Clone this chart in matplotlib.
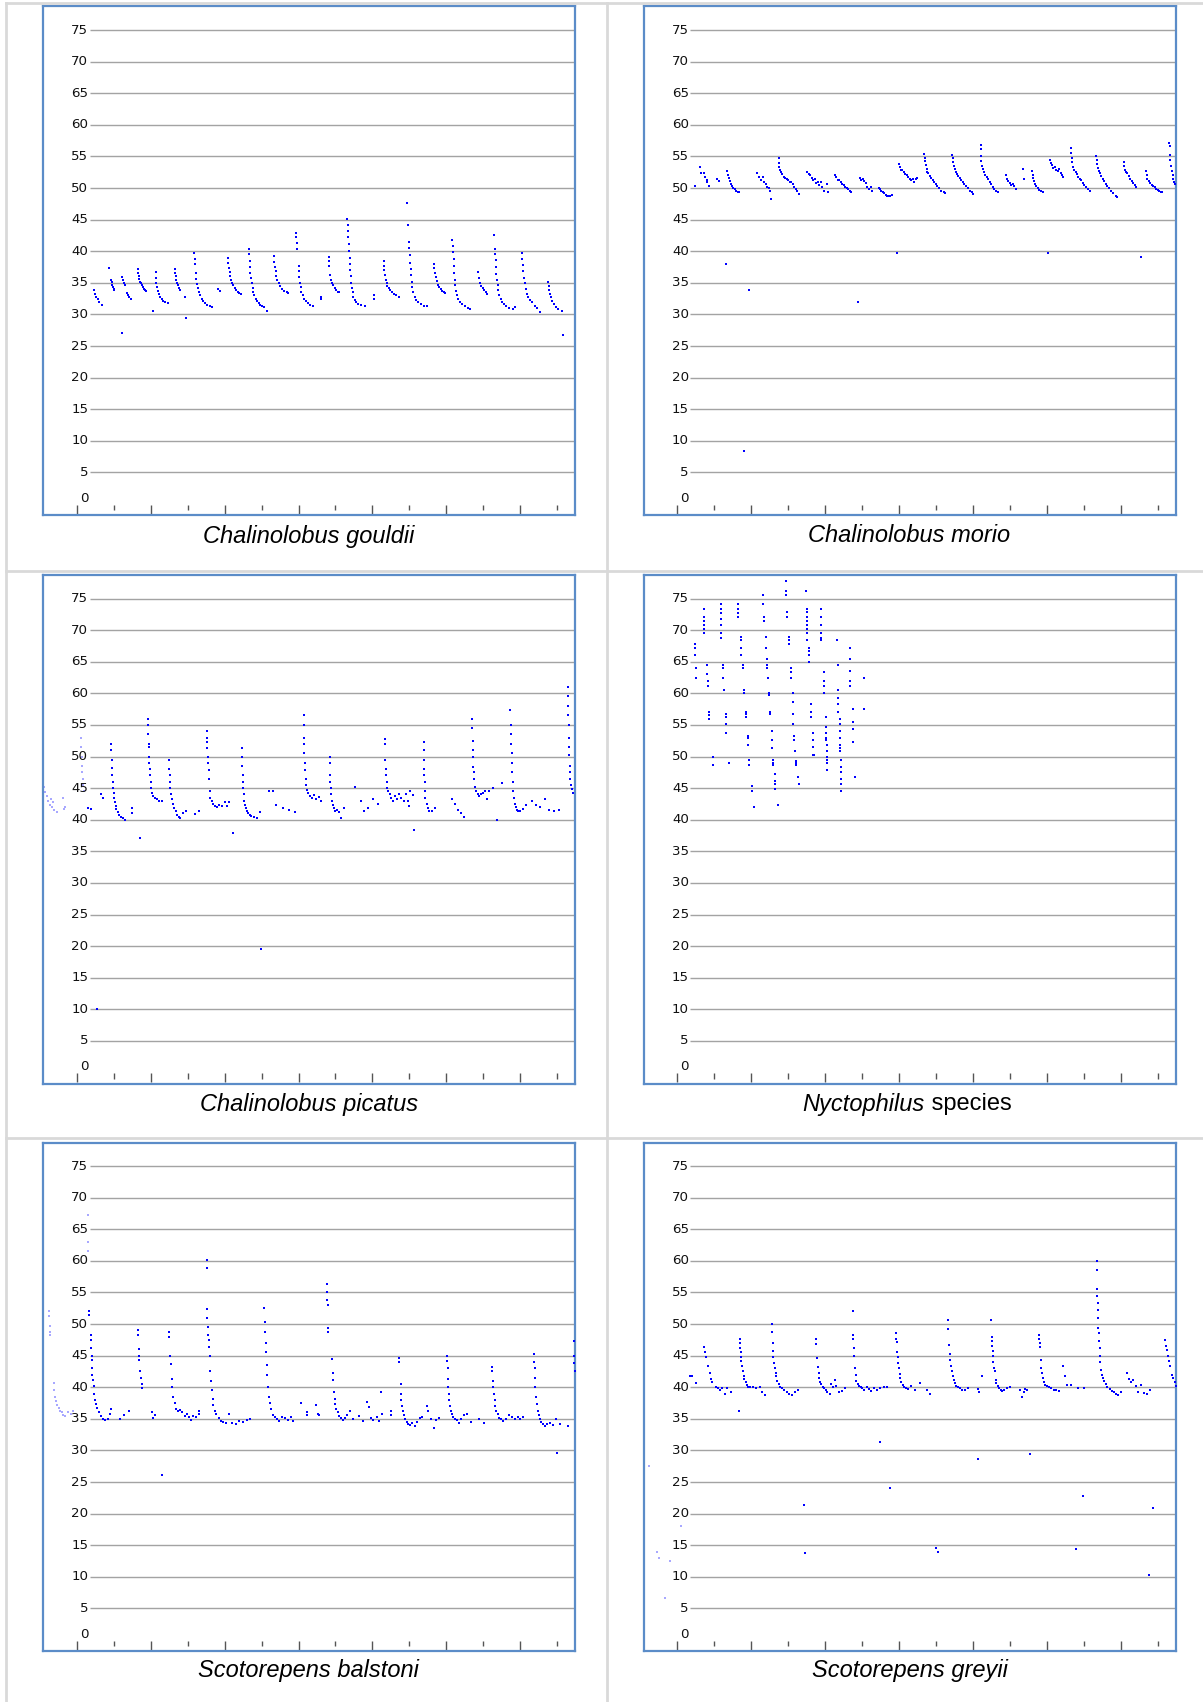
import matplotlib
matplotlib.use("Agg")
import matplotlib.pyplot as plt
from matplotlib.lines import Line2D

OUT_PNG = "out.png"
W, H = 1203, 1702

# frequency (kHz) labels and grid, time ticks
FREQ_LABELS = [0, 5, 10, 15, 20, 25, 30, 35, 40, 45, 50, 55, 60, 65, 70, 75]
FREQ_GRID = FREQ_LABELS[1:]
MAJOR_T = [0, 10, 20, 30, 40, 50, 60]
MINOR_T = [5, 15, 25, 35, 45, 55, 65]

CAPTIONS = ["Chalinolobus gouldii", "Chalinolobus morio", "Chalinolobus picatus",
            "Nyctophilus species", "Scotorepens balstoni", "Scotorepens greyii"]

# (time, kHz) dots
GOULDII = [
    (2.4, 33.9), (2.5, 33.3), (2.7, 32.8), (2.9, 32.5), (3.1, 32.0), (3.4, 31.5),
    (4.45, 37.4), (4.7, 35.5), (4.75, 35.1), (4.8, 34.7), (4.9, 34.3), (5.0, 34.0), (5.1, 33.9),
    (6.1, 27.0),
    (6.2, 35.9), (6.3, 35.5), (6.4, 35.0), (6.6, 34.6), (6.8, 33.4), (7.0, 33.0), (7.1, 32.7), (7.3, 32.4),
    (8.3, 37.2), (8.35, 36.6), (8.4, 36.0), (8.5, 35.6), (8.6, 35.2), (8.7, 34.9), (8.8, 34.6),
    (8.95, 34.3), (9.1, 34.0), (9.3, 33.8), (9.45, 33.7),
    (10.35, 30.5),
    (10.7, 36.7), (10.75, 35.8), (10.8, 35.0), (10.9, 34.3), (11.0, 33.7), (11.1, 33.2), (11.3, 32.8),
    (11.5, 32.4), (11.7, 32.1), (12.0, 31.9), (12.3, 31.8),
    (13.3, 37.2), (13.35, 36.6), (13.4, 36.0), (13.5, 35.5), (13.6, 35.0), (13.7, 34.6), (13.85, 34.2),
    (14.0, 33.9), (14.7, 32.8), (14.8, 29.4),
    (15.9, 39.7), (15.95, 38.8), (16.0, 38.0), (16.1, 36.6), (16.2, 35.6), (16.3, 34.8), (16.4, 34.1),
    (16.5, 33.5), (16.7, 33.0), (16.9, 32.5), (17.1, 32.1), (17.4, 31.8), (17.7, 31.5), (18.0, 31.3), (18.3, 31.1),
    (19.1, 34.0), (19.45, 33.7),
    (20.45, 38.9), (20.5, 38.2), (20.6, 37.4), (20.7, 36.7), (20.8, 36.0), (20.9, 35.5), (21.0, 35.0),
    (21.2, 34.6), (21.4, 34.2), (21.6, 33.9), (21.8, 33.6), (22.0, 33.4), (22.2, 33.3),
    (23.3, 40.4), (23.35, 39.5), (23.4, 38.5), (23.45, 37.5), (23.5, 36.6), (23.6, 35.8), (23.7, 35.0),
    (23.8, 34.2), (23.9, 33.5), (24.0, 33.0), (24.2, 32.5), (24.4, 32.1), (24.6, 31.8), (24.8, 31.5),
    (25.0, 31.3), (25.3, 31.1), (25.7, 30.6),
    (26.7, 39.2), (26.75, 38.3), (26.8, 37.5), (26.9, 36.8), (27.0, 36.1), (27.1, 35.5), (27.3, 35.0),
    (27.5, 34.5), (27.8, 34.0), (28.1, 33.7), (28.4, 33.5), (28.6, 33.4),
    (29.7, 42.9), (29.7, 42.2), (29.75, 41.3), (29.75, 40.4), (30.0, 37.7), (30.05, 36.9), (30.1, 35.9),
    (30.2, 35.0), (30.3, 34.3), (30.4, 33.6), (30.6, 33.0), (30.8, 32.5), (31.0, 32.1), (31.3, 31.8),
    (31.6, 31.5), (32.0, 31.3),
    (33.0, 32.8), (33.0, 32.4),
    (34.1, 39.1), (34.1, 38.5), (34.15, 37.6), (34.25, 36.3), (34.4, 35.5), (34.55, 35.0), (34.7, 34.6),
    (34.9, 34.2), (35.1, 33.9), (35.3, 33.6), (35.45, 33.5),
    (36.6, 45.1), (36.65, 44.2), (36.7, 43.2), (36.75, 42.2), (36.8, 41.1), (36.85, 40.0), (36.9, 39.0),
    (36.95, 38.0), (37.0, 37.0), (37.05, 36.0), (37.1, 35.0), (37.2, 34.2), (37.3, 33.5), (37.4, 32.8),
    (37.6, 32.3), (37.8, 31.9), (38.1, 31.6), (38.5, 31.5), (39.0, 31.4),
    (40.2, 33.0), (40.2, 32.4),
    (41.5, 38.4), (41.55, 37.7), (41.6, 37.0), (41.7, 36.2), (41.8, 35.5), (41.9, 35.0), (42.0, 34.5),
    (42.2, 34.1), (42.4, 33.8), (42.6, 33.5), (42.9, 33.3), (43.2, 33.0), (43.6, 32.7),
    (44.7, 47.6), (44.8, 44.2), (45.0, 41.5), (45.0, 40.5), (45.05, 39.4), (45.1, 38.2), (45.15, 37.2),
    (45.2, 36.2), (45.3, 35.2), (45.4, 34.3), (45.5, 33.5), (45.7, 32.8), (45.9, 32.3), (46.2, 31.9),
    (46.5, 31.6), (46.9, 31.4), (47.3, 31.3),
    (48.3, 38.0), (48.35, 37.3), (48.45, 36.6), (48.55, 35.9), (48.65, 35.3), (48.8, 34.7), (49.0, 34.3),
    (49.2, 34.0), (49.4, 33.7), (49.6, 33.5), (49.8, 33.4),
    (50.8, 41.8), (50.85, 40.8), (50.9, 39.8), (50.95, 38.7), (51.0, 37.6), (51.05, 36.5), (51.1, 35.5),
    (51.2, 34.6), (51.3, 33.7), (51.4, 33.0), (51.6, 32.4), (51.8, 32.0), (52.1, 31.6), (52.5, 31.3),
    (52.9, 31.0), (53.2, 30.9),
    (54.3, 36.7), (54.4, 35.7), (54.5, 35.0), (54.7, 34.5), (54.9, 34.1), (55.1, 33.8), (55.3, 33.5), (55.45, 33.3),
    (56.45, 42.6), (56.55, 40.4), (56.6, 39.6), (56.65, 38.6), (56.7, 37.5), (56.75, 36.4), (56.8, 35.5),
    (56.9, 34.6), (57.0, 33.8), (57.1, 33.1), (57.3, 32.5), (57.5, 32.0), (57.8, 31.6), (58.1, 31.3),
    (58.5, 31.0), (59.0, 30.9), (59.2, 31.1),
    (60.2, 39.7), (60.25, 38.8), (60.3, 37.8), (60.35, 36.8), (60.45, 35.8), (60.55, 34.9), (60.7, 34.0),
    (60.85, 33.3), (61.0, 32.8), (61.3, 32.3), (61.6, 31.9), (61.9, 31.4), (62.2, 31.0), (62.6, 30.4),
    (63.75, 35.2), (63.8, 34.5), (63.9, 33.8), (64.0, 33.2), (64.1, 32.7), (64.3, 32.2), (64.5, 31.7),
    (64.8, 31.2), (65.1, 30.8), (65.6, 30.5),
    (65.7, 26.7),
]

MORIO = [
    (2.45, 50.3),
    (3.1, 53.4), (3.27, 52.3), (3.6, 52.3), (3.8, 51.7), (4.0, 51.3), (4.1, 50.9), (4.35, 50.3),
    (5.4, 51.4), (5.6, 51.1),
    (6.6, 38.0),
    (6.7, 52.7), (6.85, 52.1), (7.0, 51.6), (7.15, 51.1), (7.3, 50.6), (7.45, 50.3), (7.6, 50.0),
    (7.8, 49.8), (8.0, 49.6), (8.2, 49.4), (8.35, 49.3),
    (9.1, 8.4), (9.7, 33.9),
    (10.85, 52.3), (11.05, 51.7), (11.3, 51.3), (11.65, 51.7), (11.75, 50.9), (11.95, 50.6),
    (12.2, 50.1), (12.4, 50.0), (12.55, 49.6), (12.65, 48.2),
    (13.7, 54.8), (13.75, 54.0), (13.8, 53.4), (13.9, 52.9), (14.0, 52.5), (14.2, 52.2), (14.4, 51.8),
    (14.6, 51.6), (14.8, 51.5), (15.0, 51.2), (15.2, 50.9), (15.4, 51.0), (15.6, 50.6), (15.8, 50.2),
    (16.0, 49.8), (16.2, 49.5), (16.5, 49.0),
    (17.6, 52.6), (17.8, 52.2), (18.0, 52.0), (18.2, 51.6), (18.4, 51.3), (18.6, 51.4), (18.8, 50.8),
    (19.0, 51.0), (19.2, 50.5), (19.4, 50.9), (19.6, 50.2), (19.9, 49.6), (20.2, 50.6), (20.35, 49.3),
    (21.3, 52.1), (21.5, 51.7), (21.7, 51.3), (21.9, 51.3), (22.1, 50.9), (22.3, 50.6), (22.5, 50.5),
    (22.7, 50.2), (22.9, 50.0), (23.1, 49.8), (23.3, 49.6), (23.5, 49.3),
    (24.4, 32.0),
    (24.7, 51.6), (24.9, 51.2), (25.1, 51.4), (25.3, 51.1), (25.5, 50.8), (25.7, 50.2), (25.9, 49.9),
    (26.2, 50.1), (26.3, 49.6),
    (27.2, 50.0), (27.4, 49.9), (27.6, 49.5), (27.8, 49.4), (28.0, 49.2), (28.2, 48.9), (28.4, 48.8),
    (28.6, 48.8), (28.8, 48.7), (29.0, 48.9),
    (29.7, 39.7),
    (30.0, 53.8), (30.05, 53.4), (30.2, 52.9), (30.4, 52.8), (30.6, 52.5), (30.8, 52.2), (31.0, 52.0),
    (31.2, 51.7), (31.4, 51.4), (31.6, 51.2), (31.8, 51.4), (32.0, 50.9), (32.2, 51.5), (32.4, 51.6),
    (33.4, 55.4), (33.45, 54.8), (33.5, 54.2), (33.6, 53.6), (33.7, 53.0), (33.8, 52.6), (33.95, 52.3),
    (34.1, 51.9), (34.3, 51.6), (34.5, 51.3), (34.7, 51.0), (34.9, 50.6), (35.1, 50.3), (35.4, 50.0),
    (35.7, 49.6), (36.0, 49.3), (36.2, 49.2),
    (37.15, 55.3), (37.2, 54.7), (37.3, 54.1), (37.4, 53.5), (37.5, 53.0), (37.65, 52.6), (37.8, 52.2),
    (38.0, 51.9), (38.2, 51.6), (38.4, 51.3), (38.6, 51.0), (38.8, 50.7), (39.0, 50.3), (39.3, 50.0),
    (39.6, 49.6), (39.85, 49.3), (40.0, 49.0),
    (41.0, 56.8), (41.0, 56.2), (41.05, 55.0), (41.1, 54.3), (41.2, 53.5), (41.3, 53.0), (41.4, 52.5),
    (41.6, 52.1), (41.8, 51.8), (42.0, 51.5), (42.2, 51.0), (42.4, 50.6), (42.6, 50.2), (42.8, 49.9),
    (43.1, 49.6), (43.4, 49.4),
    (44.4, 52.0), (44.5, 51.5), (44.7, 51.1), (44.9, 50.8), (45.1, 50.5), (45.3, 50.6), (45.5, 50.3), (45.7, 49.9),
    (46.7, 53.0), (46.8, 51.4),
    (47.9, 52.7), (48.0, 52.0), (48.1, 51.6), (48.2, 51.1), (48.35, 50.7), (48.5, 50.3), (48.7, 50.0),
    (48.9, 49.7), (49.1, 49.5), (49.35, 49.3),
    (50.1, 39.7),
    (50.4, 54.5), (50.5, 54.0), (50.6, 53.6), (50.8, 53.2), (51.0, 53.4), (51.2, 52.9), (51.4, 52.7),
    (51.6, 53.0), (51.8, 52.4), (52.0, 52.0), (52.1, 51.7),
    (53.2, 56.4), (53.25, 55.6), (53.3, 54.8), (53.35, 54.1), (53.45, 53.4), (53.6, 52.9), (53.8, 52.5),
    (54.0, 52.2), (54.2, 51.8), (54.4, 51.5), (54.6, 51.2), (54.8, 50.8), (55.0, 50.5), (55.2, 50.2),
    (55.5, 49.8), (55.7, 49.5),
    (56.6, 55.0), (56.65, 54.4), (56.75, 53.8), (56.85, 53.2), (57.0, 52.7), (57.15, 52.3), (57.3, 51.9),
    (57.5, 51.5), (57.7, 51.1), (57.9, 50.7), (58.1, 50.3), (58.3, 50.0), (58.6, 49.6), (58.9, 49.2),
    (59.2, 48.8), (59.4, 48.6),
    (60.35, 54.1), (60.4, 53.5), (60.5, 52.9), (60.6, 52.5), (60.8, 52.4), (61.0, 51.9), (61.2, 51.4),
    (61.4, 51.1), (61.6, 50.8), (61.8, 50.4), (62.0, 50.1),
    (62.7, 39.1),
    (63.35, 52.7), (63.4, 52.0), (63.5, 51.5), (63.7, 51.1), (63.9, 50.8), (64.1, 50.5), (64.3, 50.3),
    (64.5, 50.2), (64.7, 49.9), (64.9, 49.7), (65.1, 49.5), (65.3, 49.4), (65.5, 49.4),
    (66.45, 57.2), (66.5, 56.6), (66.55, 55.3), (66.6, 54.5), (66.7, 53.5), (66.8, 52.7), (66.9, 52.0),
    (67.0, 51.5), (67.1, 51.0), (67.2, 50.6),
]

PICATUS = [
    (1.6, 41.9), (2.0, 41.7), (2.8, 10.1), (3.35, 44.0), (3.6, 43.4),
    (4.7, 52.0), (4.7, 51.0), (4.75, 49.5), (4.8, 48.2), (4.85, 47.0), (4.9, 46.0), (4.95, 45.0),
    (5.0, 44.2), (5.1, 43.5), (5.2, 42.8), (5.3, 42.2), (5.4, 41.7), (5.6, 41.2), (5.8, 40.8),
    (6.0, 40.5), (6.3, 40.2), (6.5, 40.0),
    (7.5, 41.8), (7.5, 41.0), (8.6, 37.1),
    (9.7, 56.0), (9.7, 55.0), (9.72, 53.5), (9.75, 52.0), (9.78, 51.5), (9.8, 50.0), (9.85, 49.0),
    (9.9, 48.0), (9.95, 47.0), (10.0, 46.0), (10.1, 45.0), (10.2, 44.2), (10.4, 43.7), (10.6, 43.4),
    (10.9, 43.2), (11.2, 43.0), (11.5, 42.9),
    (12.5, 49.4), (12.55, 48.0), (12.6, 47.0), (12.65, 46.0), (12.7, 45.0), (12.8, 44.0), (12.9, 43.2),
    (13.0, 42.5), (13.2, 41.8), (13.4, 41.3), (13.6, 40.8), (13.8, 40.5), (14.0, 40.2), (14.4, 41.0), (14.8, 41.3),
    (16.0, 40.9), (16.6, 41.3),
    (17.6, 54.1), (17.6, 53.0), (17.65, 52.3), (17.7, 51.3), (17.75, 50.0), (17.8, 49.0), (17.85, 47.8),
    (17.9, 46.5), (18.0, 44.5), (18.1, 43.5), (18.3, 43.0), (18.5, 42.5), (18.7, 42.2), (19.0, 42.0),
    (19.3, 42.4), (19.6, 42.1), (20.0, 42.8), (20.3, 42.2), (20.6, 42.8),
    (21.2, 37.9),
    (22.3, 51.3), (22.35, 50.0), (22.4, 48.5), (22.45, 47.0), (22.5, 46.0), (22.55, 45.0), (22.6, 44.0),
    (22.7, 43.0), (22.8, 42.3), (22.9, 41.8), (23.0, 41.3), (23.2, 41.0), (23.4, 40.8), (23.6, 40.6),
    (24.0, 40.4), (24.4, 40.2), (24.8, 41.2),
    (24.9, 19.5),
    (26.0, 44.6), (26.5, 44.6), (26.9, 42.4), (27.9, 41.9), (28.7, 41.5), (29.5, 41.2),
    (30.7, 56.5), (30.7, 55.0), (30.72, 53.0), (30.75, 52.0), (30.8, 50.5), (30.85, 49.0), (30.9, 47.8),
    (30.95, 46.5), (31.0, 45.5), (31.1, 44.7), (31.3, 44.2), (31.5, 43.8), (31.8, 43.5), (32.1, 43.9),
    (32.4, 43.3), (32.8, 43.6), (33.1, 43.0),
    (34.2, 50.0), (34.2, 49.0), (34.25, 47.0), (34.3, 46.0), (34.35, 45.0), (34.4, 44.0), (34.5, 43.0),
    (34.6, 42.3), (34.8, 41.8), (35.0, 41.3), (35.2, 41.5), (35.5, 41.2), (35.7, 40.3), (36.1, 41.8),
    (37.7, 45.2), (38.5, 43.0), (38.9, 41.3), (39.4, 41.8), (40.1, 43.3), (40.8, 42.5),
    (41.7, 52.8), (41.7, 52.0), (41.75, 49.5), (41.8, 48.0), (41.85, 47.0), (41.9, 46.0), (42.0, 45.0),
    (42.1, 44.5), (42.3, 44.0), (42.5, 43.5), (42.8, 43.0), (43.0, 43.8), (43.3, 43.3), (43.6, 44.0),
    (43.9, 43.5), (44.2, 43.0), (44.5, 44.1), (44.8, 43.0), (45.0, 42.1), (45.1, 44.6), (45.5, 43.9),
    (45.6, 38.3),
    (46.9, 52.3), (46.9, 51.0), (46.95, 49.5), (47.0, 48.0), (47.0, 47.0), (47.05, 46.0), (47.1, 44.5),
    (47.15, 43.5), (47.3, 42.5), (47.5, 41.8), (47.7, 41.3), (48.0, 41.3), (48.4, 41.8),
    (50.7, 43.3), (51.1, 42.5), (51.5, 41.6), (51.9, 41.0), (52.3, 40.5),
    (53.5, 56.0), (53.5, 54.5), (53.55, 52.5), (53.6, 51.0), (53.6, 50.0), (53.65, 48.3), (53.7, 47.5),
    (53.75, 46.5), (53.85, 45.2), (54.0, 44.5), (54.2, 44.0), (54.4, 43.7), (54.6, 44.1), (54.9, 44.3),
    (55.2, 44.6), (55.5, 43.2), (55.8, 44.5),
    (56.3, 45.0), (56.8, 40.0), (57.5, 45.8),
    (58.65, 57.3), (58.7, 55.0), (58.72, 53.5), (58.75, 52.0), (58.8, 50.5), (58.85, 49.0), (58.9, 47.5),
    (58.95, 46.0), (59.0, 44.5), (59.1, 43.5), (59.2, 42.5), (59.35, 42.0), (59.5, 41.6), (59.7, 41.3),
    (60.0, 41.3), (60.4, 41.7), (60.8, 42.3),
    (61.5, 43.0), (62.1, 42.4), (62.7, 42.0), (63.3, 43.2), (63.9, 41.6), (64.5, 41.4), (65.2, 41.5),
    (66.4, 61.0), (66.4, 59.5), (66.45, 58.0), (66.45, 56.5), (66.5, 55.0), (66.5, 53.0), (66.55, 51.5),
    (66.6, 50.3), (66.65, 48.5), (66.7, 47.5), (66.75, 46.5), (66.8, 45.5), (66.9, 44.8), (67.1, 44.3),
]
PICATUS_FAINT = [
    (-4.5, 46.0), (-4.4, 45.2), (-4.2, 44.4), (-4.0, 43.7), (-3.8, 43.0), (-3.6, 42.4), (-3.5, 43.3),
    (-3.3, 42.0), (-3.2, 42.8), (-3.0, 41.6), (-2.7, 41.2), (-1.8, 43.4), (-1.6, 42.0), (-1.7, 41.7),
    (0.6, 53.0), (0.65, 51.5), (0.7, 50.0), (0.75, 48.5), (0.8, 47.5), (0.85, 46.5), (0.9, 45.5), (0.95, 44.5),
]

NYCTOPHILUS = [
    (2.43, 67.8), (2.43, 67.2), (2.43, 66.1), (2.57, 64.0), (2.57, 62.5),
    (3.65, 73.4), (3.65, 72.1), (3.65, 71.5), (3.65, 70.8), (3.65, 70.2), (3.65, 69.5), (4.0, 64.5),
    (4.0, 63.0), (4.2, 61.9), (4.2, 61.1), (4.3, 57.1), (4.3, 56.6), (4.3, 55.9), (4.8, 49.9), (4.8, 48.7),
    (5.9, 74.1), (5.9, 73.4), (5.9, 72.7), (5.9, 71.8), (5.9, 70.8), (5.95, 69.5), (5.95, 68.8),
    (6.25, 64.5), (6.25, 64.0), (6.25, 62.5), (6.3, 60.6), (6.6, 56.7), (6.6, 56.3), (6.6, 55.2),
    (6.6, 53.7), (7.0, 49.0),
    (8.2, 74.1), (8.2, 73.4), (8.2, 72.7), (8.2, 72.1), (8.65, 68.9), (8.65, 68.4), (8.65, 67.2),
    (8.65, 66.1), (8.9, 64.5), (8.9, 64.0), (9.05, 60.6), (9.05, 60.0), (9.3, 57.1), (9.3, 56.7),
    (9.3, 56.3), (9.55, 53.2), (9.55, 52.9), (9.55, 51.9), (9.7, 49.4), (9.7, 48.7), (10.1, 45.4),
    (10.1, 44.6), (10.4, 42.0),
    (11.6, 75.5), (11.6, 74.1), (11.75, 72.1), (11.75, 71.5), (12.0, 68.9), (12.0, 67.2), (12.1, 65.5),
    (12.1, 64.5), (12.1, 64.0), (12.25, 62.5), (12.4, 60.0), (12.4, 59.7), (12.6, 57.1), (12.6, 56.7),
    (12.8, 54.0), (12.8, 52.6), (12.8, 51.3), (12.95, 49.4), (12.95, 49.0), (12.95, 48.7), (13.25, 47.3),
    (13.25, 46.1), (13.25, 45.7), (13.25, 44.9), (13.6, 42.3),
    (14.65, 77.7), (14.65, 76.2), (14.65, 75.5), (14.9, 72.8), (14.9, 72.1), (15.1, 68.9), (15.1, 68.4),
    (15.1, 67.8), (15.4, 64.0), (15.4, 63.4), (15.4, 62.5), (15.6, 60.0), (15.6, 58.7), (15.7, 56.7),
    (15.7, 55.2), (15.8, 53.2), (15.8, 52.6), (15.95, 50.8), (16.1, 49.3), (16.1, 49.0), (16.1, 48.7),
    (16.3, 46.7), (16.45, 45.7),
    (17.4, 76.2), (17.5, 73.4), (17.5, 72.8), (17.5, 72.1), (17.5, 71.5), (17.5, 70.8), (17.5, 70.2),
    (17.5, 69.5), (17.5, 68.4), (17.8, 67.2), (17.8, 66.7), (17.8, 66.1), (17.8, 65.0), (18.05, 58.3),
    (18.05, 57.1), (18.05, 56.3), (18.3, 53.7), (18.3, 52.6), (18.3, 51.5), (18.4, 50.2), (18.5, 50.2),
    (19.5, 73.4), (19.5, 72.1), (19.5, 70.8), (19.5, 69.5), (19.5, 68.8), (19.5, 68.4), (19.8, 63.4),
    (19.8, 61.9), (19.8, 61.1), (19.8, 60.0), (20.05, 56.3), (20.05, 54.7), (20.05, 53.7), (20.05, 52.9),
    (20.05, 52.6), (20.2, 51.9), (20.2, 50.8), (20.2, 49.9), (20.2, 49.4), (20.2, 49.0), (20.25, 47.9),
    (21.6, 68.4), (21.7, 64.5), (21.7, 60.6), (21.7, 59.3), (21.7, 58.3), (21.7, 57.1), (21.95, 55.9),
    (21.95, 55.2), (21.95, 54.0), (21.95, 52.9), (21.95, 51.9), (21.95, 51.3), (21.95, 50.8), (22.2, 49.4),
    (22.2, 48.4), (22.2, 47.5), (22.2, 46.5), (22.2, 45.7), (22.2, 44.6),
    (23.4, 67.2), (23.4, 65.5), (23.4, 63.5), (23.4, 61.9), (23.4, 61.1), (23.7, 57.5), (23.7, 55.5),
    (23.7, 54.4), (23.7, 52.3), (24.05, 46.7), (25.2, 62.5), (25.2, 57.5),
]

BALSTONI = [
    (1.75, 52.0), (1.75, 51.4),
    (1.95, 48.2), (1.95, 47.5), (2.0, 46.2), (2.05, 45.0), (2.05, 44.3), (2.1, 43.0), (2.15, 42.0),
    (2.2, 41.2), (2.3, 40.2), (2.4, 39.0), (2.5, 38.0), (2.6, 37.3), (2.8, 36.7), (3.0, 36.1),
    (3.3, 35.4), (3.6, 35.0), (3.9, 34.8), (4.2, 34.9), (4.5, 35.7), (4.7, 36.5),
    (5.9, 35.0), (6.4, 35.6), (7.15, 36.2),
    (8.3, 49.1), (8.3, 48.2), (8.4, 46.0), (8.45, 45.0), (8.5, 44.3), (8.6, 42.5), (8.7, 41.4),
    (8.8, 40.5), (8.9, 39.8),
    (10.2, 36.1), (10.4, 35.2), (10.6, 35.6), (11.5, 26.1),
    (12.55, 48.8), (12.55, 48.0), (12.7, 45.0), (12.75, 43.7), (12.85, 41.3), (12.95, 40.0), (13.1, 38.4),
    (13.3, 37.5), (13.5, 36.5), (13.7, 36.2), (14.0, 36.4), (14.3, 36.0), (14.6, 35.5), (14.9, 35.7),
    (15.2, 35.3), (15.5, 34.8), (15.8, 35.5), (16.2, 35.3), (16.5, 36.2), (16.6, 35.8),
    (17.6, 60.2), (17.6, 58.8), (17.7, 52.3), (17.7, 51.0), (17.75, 49.5), (17.8, 48.3), (17.85, 47.5),
    (17.9, 46.3), (18.0, 45.0), (18.1, 42.5), (18.2, 41.0), (18.3, 39.5), (18.4, 38.2), (18.5, 37.2),
    (18.7, 36.3), (18.9, 35.7), (19.2, 35.1), (19.5, 34.7), (19.8, 34.5), (20.2, 34.4), (20.6, 35.8),
    (21.0, 34.3), (21.5, 34.2), (22.0, 34.6), (22.5, 34.5), (23.0, 34.8), (23.5, 34.9),
    (25.4, 52.6), (25.45, 50.3), (25.5, 48.8), (25.55, 47.0), (25.6, 45.6), (25.7, 43.5), (25.8, 42.0),
    (25.9, 40.0), (26.0, 38.5), (26.1, 37.5), (26.3, 36.5), (26.5, 35.6), (26.8, 35.3), (27.1, 35.0),
    (27.4, 34.7), (27.8, 35.3), (28.2, 35.2), (28.6, 34.8), (29.0, 35.3), (29.3, 34.6),
    (30.4, 37.5), (31.1, 36.1), (31.1, 35.6), (32.3, 37.2), (32.7, 35.8), (32.8, 35.6),
    (33.9, 56.4), (33.9, 55.0), (33.9, 53.8), (33.95, 53.0), (34.0, 49.4), (34.0, 48.8), (34.5, 44.4),
    (34.6, 42.2), (34.7, 41.2), (34.8, 39.3), (34.9, 38.2), (35.0, 37.3), (35.1, 36.5), (35.3, 36.0),
    (35.5, 35.5), (35.7, 35.1), (36.0, 34.8), (36.3, 35.2), (36.6, 35.6), (36.9, 36.2), (37.3, 35.0),
    (38.2, 35.5), (38.7, 34.7), (39.2, 37.6), (39.5, 36.8), (39.8, 35.2), (40.1, 34.8), (40.6, 35.3),
    (40.9, 34.7), (41.2, 39.2), (41.3, 35.8), (42.5, 36.2), (42.5, 35.6),
    (43.6, 44.6), (43.6, 44.0), (43.8, 40.5), (43.85, 39.0), (43.9, 38.0), (44.0, 37.0), (44.1, 36.2),
    (44.2, 35.6), (44.4, 35.0), (44.6, 34.5), (44.8, 34.2), (45.1, 34.0), (45.4, 34.3), (45.7, 33.9),
    (46.0, 34.5), (46.4, 35.1), (46.7, 35.3),
    (47.4, 37.1), (47.5, 36.3), (47.9, 35.0), (48.3, 33.6), (48.6, 34.8), (49.0, 35.1),
    (50.1, 45.0), (50.1, 44.2), (50.15, 43.0), (50.2, 41.3), (50.25, 40.0), (50.3, 39.0), (50.4, 38.0),
    (50.5, 37.0), (50.6, 36.3), (50.7, 35.8), (50.9, 35.3), (51.1, 35.0), (51.4, 34.8), (51.7, 34.3),
    (52.0, 35.0), (52.4, 35.6), (52.8, 35.8), (53.3, 34.5),
    (54.4, 35.0), (55.1, 34.4),
    (56.2, 43.2), (56.2, 42.5), (56.3, 41.0), (56.35, 40.0), (56.4, 39.0), (56.5, 38.0), (56.6, 37.0),
    (56.7, 36.3), (56.9, 35.7), (57.1, 35.2), (57.3, 35.0), (57.6, 34.7), (58.0, 35.0), (58.4, 35.6),
    (58.8, 35.3), (59.2, 34.9), (59.6, 35.3), (60.0, 35.0), (60.3, 35.3),
    (61.8, 45.2), (61.8, 44.0), (61.9, 43.0), (61.95, 41.5), (62.0, 40.0), (62.1, 38.5), (62.2, 37.3),
    (62.3, 36.3), (62.45, 35.6), (62.6, 35.0), (62.8, 34.5), (63.0, 34.1), (63.3, 33.8), (63.6, 34.2),
    (64.0, 34.4), (64.4, 34.0), (64.8, 34.9), (65.0, 29.6), (65.4, 34.1), (66.4, 33.9),
    (67.2, 47.3), (67.2, 45.0), (67.25, 43.8), (67.3, 42.5),
]
BALSTONI_FAINT = [
    (-3.7, 52.0), (-3.7, 51.3), (-3.65, 49.7), (-3.6, 48.7), (-3.6, 48.3),
    (-3.1, 40.6), (-3.0, 39.5), (-2.9, 38.5), (-2.8, 37.8), (-2.6, 37.2), (-2.4, 36.7), (-2.2, 36.3),
    (-2.0, 36.0), (-1.8, 35.6), (-1.5, 35.4), (-1.2, 36.0), (-0.8, 35.8), (-0.5, 36.2),
    (1.5, 67.2), (1.5, 63.0), (1.55, 61.5),
]

GREYII = [
    (1.8, 41.8), (2.0, 41.7), (2.5, 40.6),
    (3.7, 46.3), (3.8, 45.5), (3.9, 44.8), (4.15, 43.3), (4.5, 42.2), (4.6, 41.3), (4.75, 40.8),
    (5.2, 40.1), (5.5, 39.8), (5.8, 39.5), (6.1, 39.8), (6.5, 39.0), (6.8, 39.8), (7.3, 39.3),
    (8.3, 36.2),
    (8.5, 47.7), (8.5, 47.0), (8.55, 46.2), (8.6, 45.5), (8.65, 44.8), (8.7, 44.2), (8.8, 43.3),
    (8.9, 42.5), (9.0, 41.8), (9.1, 41.3), (9.25, 40.8), (9.4, 40.3), (9.6, 40.0), (9.9, 40.1),
    (10.3, 40.0), (10.7, 39.8), (11.2, 40.0), (11.5, 39.2), (11.9, 38.7),
    (12.85, 50.0), (12.85, 48.7), (12.9, 47.0), (12.95, 45.7), (13.0, 44.8), (13.1, 43.8), (13.2, 43.0),
    (13.3, 42.3), (13.4, 41.7), (13.55, 41.0), (13.7, 40.5), (13.9, 40.1), (14.2, 39.9), (14.5, 39.5),
    (14.8, 39.3), (15.1, 39.0), (15.5, 38.8), (15.9, 39.3), (16.3, 39.5),
    (17.1, 21.4), (17.3, 13.7),
    (18.7, 47.6), (18.7, 46.8), (18.95, 44.6), (19.0, 43.2), (19.1, 42.3), (19.2, 41.5), (19.3, 40.8),
    (19.5, 40.5), (19.7, 40.1), (19.9, 39.8), (20.1, 39.5), (20.3, 39.2), (20.6, 39.0), (20.8, 40.5),
    (21.0, 40.0), (21.3, 41.1), (21.5, 40.2), (21.9, 39.2), (22.3, 39.4), (22.7, 39.9),
    (23.75, 52.0), (23.75, 48.2), (23.8, 47.6), (23.85, 46.2), (23.9, 45.0), (24.0, 43.0), (24.1, 42.0),
    (24.2, 41.0), (24.4, 40.5), (24.6, 40.2), (24.8, 40.0), (25.0, 39.8), (25.3, 39.6), (25.6, 40.0),
    (25.9, 39.7), (26.2, 39.4), (26.6, 39.9), (27.0, 39.5), (27.4, 39.8), (28.0, 40.1), (28.3, 40.0),
    (27.4, 31.4), (28.7, 24.1),
    (29.6, 48.5), (29.6, 47.6), (29.65, 47.2), (29.75, 45.5), (29.8, 44.8), (29.85, 43.9), (29.95, 43.0),
    (30.05, 42.1), (30.15, 41.4), (30.3, 40.8), (30.5, 40.3), (30.7, 40.0), (30.9, 39.8), (31.2, 39.7),
    (31.6, 40.2), (32.1, 39.6),
    (32.8, 40.6), (33.7, 39.5), (34.2, 39.0),
    (35.0, 14.5), (35.2, 14.0),
    (36.6, 50.7), (36.65, 49.2), (36.75, 46.7), (36.85, 45.3), (36.9, 44.3), (37.0, 43.3), (37.1, 42.5),
    (37.2, 41.8), (37.35, 41.1), (37.5, 40.6), (37.7, 40.2), (37.9, 40.0), (38.2, 39.8), (38.5, 39.6),
    (38.9, 39.6), (39.3, 39.9), (40.7, 39.7), (40.8, 39.3),
    (40.6, 28.7), (41.2, 41.7),
    (42.4, 50.7), (42.5, 48.0), (42.5, 47.3), (42.55, 46.5), (42.6, 45.8), (42.65, 44.9), (42.7, 44.0),
    (42.8, 43.0), (42.9, 42.6), (43.0, 41.2), (43.1, 40.7), (43.3, 40.2), (43.5, 39.8), (43.7, 39.6),
    (43.9, 39.4), (44.2, 39.6), (44.6, 39.8), (45.0, 40.0),
    (46.3, 39.6), (46.6, 38.4), (46.8, 39.3), (47.0, 39.7), (47.3, 39.5),
    (47.6, 29.4),
    (48.85, 48.3), (48.9, 47.7), (48.95, 47.0), (49.0, 46.3), (49.1, 44.3), (49.2, 43.0), (49.3, 42.2),
    (49.4, 41.4), (49.5, 40.8), (49.7, 40.4), (49.9, 40.2), (50.2, 40.0), (50.5, 39.8), (50.9, 39.6),
    (51.2, 39.5), (51.6, 39.4),
    (52.1, 43.4), (52.4, 41.8), (52.7, 40.3), (53.2, 40.3), (54.2, 39.8), (54.9, 39.8),
    (53.8, 14.4), (54.8, 22.8),
    (56.7, 60.0), (56.7, 58.5), (56.75, 55.6), (56.75, 54.5), (56.8, 53.4), (56.8, 52.2), (56.85, 51.0),
    (56.9, 49.3), (56.95, 48.5), (57.0, 47.3), (57.05, 46.2), (57.1, 45.0), (57.15, 44.0), (57.25, 42.7),
    (57.35, 42.0), (57.5, 41.5), (57.7, 41.0), (57.9, 40.5), (58.1, 40.1), (58.4, 39.7), (58.7, 39.4),
    (59.0, 39.2), (59.3, 39.0), (59.6, 38.8), (60.0, 39.3),
    (60.7, 42.2), (61.0, 41.3), (61.3, 40.8), (61.6, 41.1), (62.0, 40.2), (62.3, 39.3), (62.6, 40.3),
    (63.0, 39.1), (63.4, 39.0), (63.8, 39.5),
    (63.75, 10.3), (64.3, 20.9),
    (65.9, 47.4), (66.0, 46.5), (66.1, 45.9), (66.3, 45.0), (66.4, 44.2), (66.6, 43.3), (66.8, 42.0),
    (67.0, 41.5), (67.2, 40.8), (67.3, 40.2),
]
GREYII_FAINT = [(-3.8, 27.5), (-2.7, 13.9), (-2.5, 12.9), (-1.6, 6.7), (-0.95, 12.5), (0.6, 18.0)]

PANEL_DOTS = [GOULDII, MORIO, PICATUS, NYCTOPHILUS, BALSTONI, GREYII]
PANEL_FAINT = [[], [], PICATUS_FAINT, [], BALSTONI_FAINT, GREYII_FAINT]

# layout in pixels (left, right) per column, (top, bottom) per row
COL_X = [(43, 574.5), (643.5, 1175.5)]
ROW_Y = [(6.5, 515), (575, 1083.5), (1142.5, 1651)]
CAPTION_Y = [536, 1104, 1671]
XLIM = (-4.53, 67.3)
YLIM = (-1.74, 78.72)

BLUE = "#0000ff"
FAINT = "#a8a8ff"
FRAME = "#5b8cc8"

fig = plt.figure(figsize=(W / 100, H / 100), dpi=100)

# table rules
rule = dict(color="#d9d9d9", lw=2.0)
for yy in [3, 571, 1138]:
    fig.add_artist(Line2D([6 / W, 1], [1 - yy / H, 1 - yy / H], **rule))
for xx in [6, 607]:
    fig.add_artist(Line2D([xx / W, xx / W], [0, 1 - 3 / H], **rule))

for i, dots in enumerate(PANEL_DOTS):
    row, col = divmod(i, 2)
    x0, x1 = COL_X[col]
    y0, y1 = ROW_Y[row]
    ax = fig.add_axes([x0 / W, 1 - y1 / H, (x1 - x0) / W, (y1 - y0) / H])
    ax.set_xlim(*XLIM)
    ax.set_ylim(*YLIM)
    ax.set_xticks([])
    ax.set_yticks([])
    for sp in ax.spines.values():
        sp.set_color(FRAME)
        sp.set_linewidth(1.6)

    ax.hlines(FREQ_GRID, 1.8, XLIM[1], color="#a3a3a3", lw=1.0, zorder=1)
    for v in FREQ_LABELS:
        ax.annotate(str(v), (1.6, v), xytext=(0, 6 if v == 0 else 0), textcoords="offset pixels",
                    ha="right", va="center", fontsize=9.6, color="#111111")

    tr = ax.get_xaxis_transform()
    ax.vlines(MAJOR_T, 0.002, 0.0197, transform=tr, color="#555555", lw=1.0)
    ax.vlines(MINOR_T, 0.0098, 0.0197, transform=tr, color="#555555", lw=1.0)

    faint = PANEL_FAINT[i]
    if faint:
        ax.plot([p[0] for p in faint], [p[1] for p in faint], "s", ms=1.5, mew=0, color=FAINT, zorder=2)
    ax.plot([p[0] for p in dots], [p[1] for p in dots], "s", ms=1.6, mew=0, color=BLUE, zorder=3)

    cx = (x0 + x1) / 2
    cy = 1 - CAPTION_Y[row] / H
    if CAPTIONS[i].startswith("Nyctophilus"):
        genus, rest = CAPTIONS[i].split(" ", 1)
        fig.text(925 / W, cy, genus, ha="right", va="center", fontsize=17,
                 family="Liberation Sans", style="italic")
        fig.text(925 / W, cy, " " + rest, ha="left", va="center", fontsize=17,
                 family="Liberation Sans")
    else:
        fig.text(cx / W, cy, CAPTIONS[i], ha="center", va="center", fontsize=17,
                 family="Liberation Sans", style="italic")

fig.savefig(OUT_PNG, dpi=100)
